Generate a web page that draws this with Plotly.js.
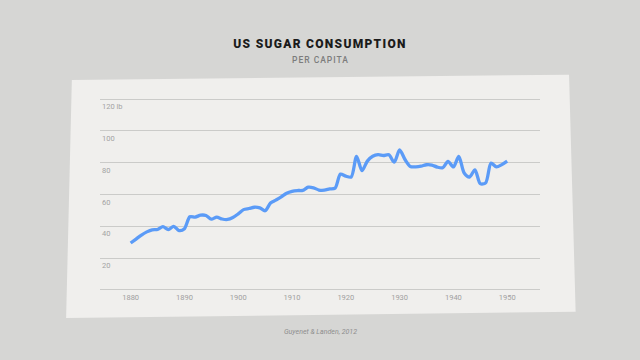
<!DOCTYPE html>
<html>
<head>
<meta charset="utf-8">
<script src="https://cdn.plot.ly/plotly-3.0.1.min.js"></script>
<style>
  html, body { margin: 0; padding: 0; background: #d6d6d4; }
  #chart { width: 640px; height: 360px; }
  .gtitle { letter-spacing: 1.3px; }
  .annotation[data-index="0"] text { letter-spacing: 1px; }
</style>
</head>
<body>
<div id="chart"></div>
<script>
// US sugar consumption per capita (lb)
const years = [1880,1881,1882,1883,1884,1885,1886,1887,1888,1889,
               1890,1891,1892,1893,1894,1895,1896,1897,1898,1899,
               1900,1901,1902,1903,1904,1905,1906,1907,1908,1909,
               1910,1911,1912,1913,1914,1915,1916,1917,1918,1919,
               1920,1921,1922,1923,1924,1925,1926,1927,1928,1929,
               1930,1931,1932,1933,1934,1935,1936,1937,1938,1939,
               1940,1941,1942,1943,1944,1945,1946,1947,1948,1949,1950];
const pounds = [29.5,32,34.5,36.5,37.8,38,39.8,38,40,37.3,
                38.5,46,45.8,47,46.8,44.5,45.8,44.6,44.3,45.5,
                47.8,50.5,51.2,52,51.6,49.8,54.6,56.5,58.5,60.8,
                62,62.5,62.6,64.6,64.2,62.8,62.7,63.5,64,72.8,
                71.5,71,84,75,81,84,85,84.5,85,80.3,
                88,82,77.6,77.4,77.8,78.7,78.5,77.2,76.8,80.8,
                77.3,83.9,73.5,71,75.5,66.8,67.3,79.7,77.3,78.8,81];
const yTickVals = [0,20,40,60,80,100,120];
const yTickText = ['','20','40','60','80','100','120 lb'];
const xTickVals = [1880,1890,1900,1910,1920,1930,1940,1950];
const titleText = 'US SUGAR CONSUMPTION';
const subtitleText = 'PER CAPITA';
const sourceText = 'Guyenet &amp; Landen, 2012';

const trace = {
  x: years, y: pounds, type: 'scatter', mode: 'lines',
  line: { color: '#5b9bf7', width: 3.3, shape: 'spline', smoothing: 0.8 },
  hoverinfo: 'x+y'
};

const annotations = [
  {
    text: subtitleText, xref: 'paper', yref: 'paper', x: 0.5, y: 1.1984,
    xanchor: 'center', yanchor: 'middle', showarrow: false,
    font: { family: 'Roboto, Arial, sans-serif', size: 8.5, color: '#7c7c7c', weight: 500 }
  },
  {
    text: '<i>' + sourceText + '</i>', xref: 'paper', yref: 'paper', x: 0.5, y: -0.2124,
    xanchor: 'center', yanchor: 'middle', showarrow: false,
    font: { family: 'Roboto, Arial, sans-serif', size: 7, color: '#8e8e8e' }
  }
];
// y-axis labels sit just under each gridline, left-aligned at the plot edge
yTickVals.forEach((v, i) => {
  if (!yTickText[i]) return;
  annotations.push({
    text: yTickText[i], xref: 'paper', yref: 'y', x: 0, y: v,
    xanchor: 'left', yanchor: 'top', yshift: -1, showarrow: false,
    font: { family: 'Roboto, Arial, sans-serif', size: 7.5, color: '#a3a3a3' }
  });
});

const layout = {
  width: 640, height: 360,
  margin: { l: 100, r: 100, t: 98, b: 69 },
  paper_bgcolor: '#d6d6d4',
  plot_bgcolor: 'rgba(0,0,0,0)',
  showlegend: false,
  title: {
    text: titleText,
    x: 0.5, xanchor: 'center', xref: 'paper',
    y: 0.878, yanchor: 'middle', yref: 'container',
    font: { family: 'Roboto, Arial, sans-serif', size: 12, color: '#1b1b1b', weight: 900 }
  },
  xaxis: {
    range: [1874.3, 1956.1],
    tickvals: xTickVals,
    showgrid: false, zeroline: false, showline: false,
    ticks: '',
    tickfont: { family: 'Roboto, Arial, sans-serif', size: 7.5, color: '#a0a0a0' },
    fixedrange: true
  },
  yaxis: {
    range: [-0.65, 120.65],
    tickvals: yTickVals,
    showticklabels: false,
    showgrid: true, gridcolor: '#cbcbc9', gridwidth: 1,
    zeroline: false, showline: false, ticks: '',
    fixedrange: true
  },
  shapes: [{
    type: 'path', xref: 'paper', yref: 'paper', layer: 'below',
    path: 'M -0.064 1.0933 L 1.066 1.1207 L 1.081 -0.1073 L -0.077 -0.1399 Z',
    fillcolor: '#f0efed', line: { width: 0 }
  }],
  annotations: annotations
};

Plotly.newPlot('chart', [trace], layout, { displayModeBar: false, staticPlot: true });
</script>
</body>
</html>
